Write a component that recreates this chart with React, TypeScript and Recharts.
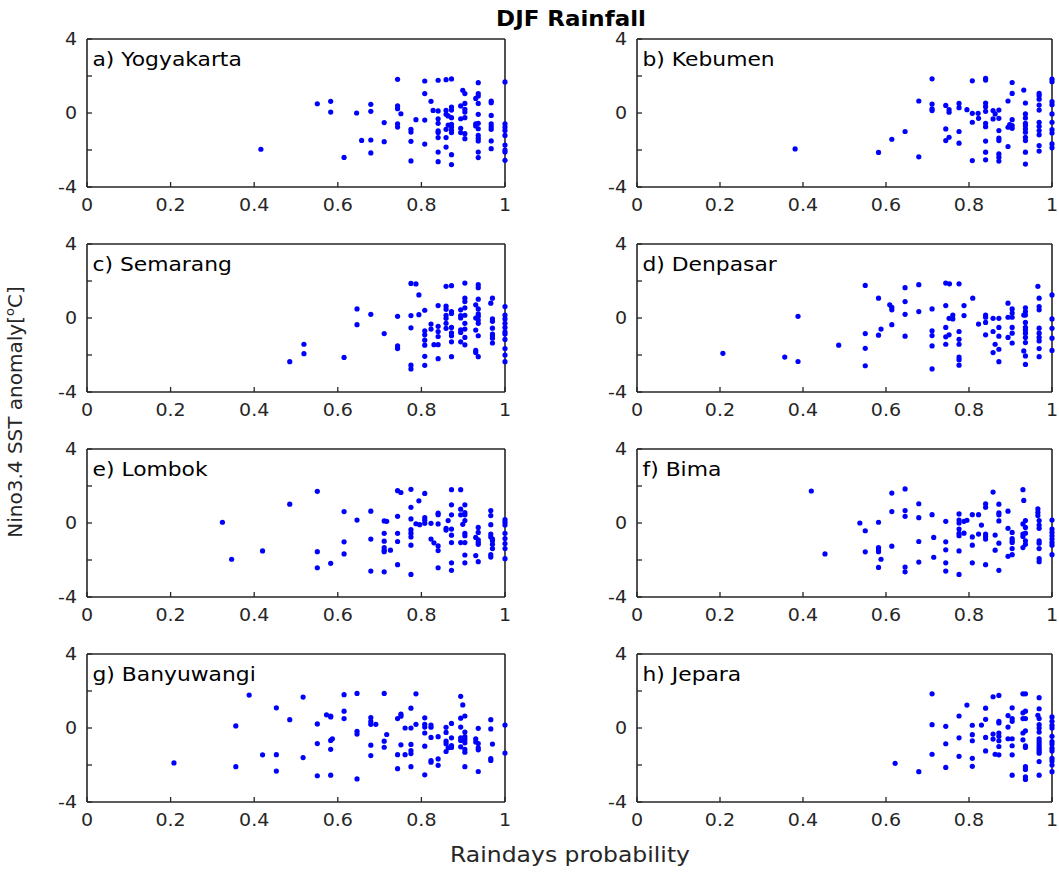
import React from 'react';
import { ScatterChart, Scatter, XAxis, YAxis } from 'recharts';

type Pt = [number, number];

const stationNames = ['a) Yogyakarta', 'b) Kebumen', 'c) Semarang', 'd) Denpasar', 'e) Lombok', 'f) Bima', 'g) Banyuwangi', 'h) Jepara'];
const xTicks = [0, 0.2, 0.4, 0.6, 0.8, 1];
const yTicks = [-4, -2, 0, 2, 4];
const yLabelled = [-4, 0, 4];

// raindays probability vs Nino3.4 SST anomaly
const yogyakarta: Pt[] = [
  [0.416, -1.96], [0.551, 0.5], [0.583, 0.63], [0.583, 0.05], [0.615, -2.4], [0.645, 0.0], [0.657, -1.48],
  [0.679, 0.47], [0.679, 0.09], [0.679, -1.46], [0.679, -2.16], [0.711, -0.52], [0.711, -1.55],
  [0.743, 1.82], [0.743, 0.38], [0.743, 0.23], [0.743, -0.58], [0.743, -0.76], [0.751, -0.04],
  [0.775, -0.88], [0.775, -1.03], [0.775, -1.53], [0.775, -2.59], [0.787, -0.36],
  [0.808, 1.73], [0.808, 1.05], [0.808, -0.38], [0.808, -1.68], [0.823, 0.63], [0.828, 0.14],
  [0.84, 1.77], [0.84, 0.11], [0.84, -0.31], [0.84, -0.56], [0.84, -0.97], [0.84, -1.06], [0.84, -1.33], [0.84, -2.11], [0.84, -2.63],
  [0.859, 1.8], [0.859, 0.14], [0.859, -0.07], [0.859, -0.88], [0.859, -1.33], [0.859, -1.84], [0.864, -0.16], [0.864, -0.65],
  [0.872, 1.84], [0.872, 0.32], [0.872, 0.16], [0.872, -0.25], [0.872, -0.61], [0.872, -0.76], [0.872, -0.94], [0.872, -1.06], [0.872, -2.25], [0.872, -2.79],
  [0.894, 0.38], [0.894, -0.31], [0.894, -0.83], [0.894, -1.06], [0.899, 1.23],
  [0.904, 1.05], [0.904, 0.52], [0.904, 0.2], [0.904, 0.05], [0.904, -0.25], [0.904, -1.12], [0.904, -1.39],
  [0.93, 0.79], [0.93, -0.58], [0.93, -0.7],
  [0.936, 1.64], [0.936, 1.05], [0.936, 0.92], [0.936, 0.52], [0.936, -0.07], [0.936, -0.56], [0.936, -0.85], [0.936, -1.21], [0.936, -1.37], [0.936, -1.51], [0.936, -2.11], [0.936, -2.41],
  [0.967, 0.65], [0.967, 0.56], [0.967, -0.13], [0.967, -0.58], [0.967, -0.74], [0.967, -0.88], [0.967, -1.51], [0.967, -1.93],
  [1, 1.68], [1, -0.58], [1, -0.76], [1, -0.94], [1, -1.21], [1, -1.73], [1, -2.0], [1, -2.11], [1, -2.56],
];

const kebumen: Pt[] = [
  [0.381, -1.94], [0.582, -2.13], [0.614, -1.42], [0.646, -1.0], [0.679, 0.65], [0.679, -2.37],
  [0.711, 1.85], [0.711, 0.48], [0.711, 0.22], [0.711, 0.13],
  [0.744, 0.41], [0.744, -0.86], [0.744, -1.49], [0.752, 0.18], [0.752, 0.04], [0.752, -1.31],
  [0.776, 0.52], [0.776, 0.29], [0.776, -1.0], [0.776, -1.63], [0.795, 0.18],
  [0.808, 1.74], [0.808, -0.02], [0.808, -0.5], [0.808, -2.57], [0.822, -0.02], [0.823, -0.29],
  [0.84, 1.87], [0.84, 1.78], [0.84, 0.54], [0.84, 0.34], [0.84, 0.09], [0.84, -0.56], [0.84, -0.74], [0.84, -1.52], [0.84, -2.12], [0.84, -2.53],
  [0.858, 0.13], [0.858, -0.32], [0.863, -0.05],
  [0.872, 0.16], [0.872, -0.29], [0.872, -0.95], [0.872, -1.36], [0.872, -1.49], [0.872, -2.21], [0.872, -2.39], [0.872, -2.6],
  [0.894, 0.65], [0.894, -0.77], [0.894, -1.81], [0.898, -0.63],
  [0.904, 1.65], [0.904, 1.06], [0.904, -0.36], [0.904, -0.68], [0.904, -0.83],
  [0.932, 1.24], [0.936, 0.54], [0.936, -0.05], [0.936, -0.27], [0.936, -0.56], [0.936, -0.68], [0.936, -0.86], [0.936, -1.04], [0.936, -1.31], [0.936, -1.49], [0.936, -2.12], [0.936, -2.76],
  [0.969, 1.06], [0.969, 0.93], [0.969, 0.75], [0.969, 0.43], [0.969, 0.16], [0.969, -0.5], [0.969, -0.72], [0.969, -0.95], [0.969, -1.18], [0.969, -1.76], [0.969, -2.06],
  [1, 1.83], [1, 1.69], [1, 0.61], [1, 0.45], [1, -0.05], [1, -0.5], [1, -0.9], [1, -1.08], [1, -1.67], [1, -1.88],
];

const semarang: Pt[] = [
  [0.485, -2.36], [0.519, -1.42], [0.519, -1.93], [0.615, -2.13], [0.646, 0.49], [0.646, -0.36], [0.679, 0.2], [0.711, -0.84],
  [0.743, 0.09], [0.743, -1.51], [0.743, -1.65],
  [0.775, 1.87], [0.787, 1.84], [0.775, 0.13], [0.775, -0.53], [0.775, -2.55], [0.775, -2.75], [0.794, 1.25], [0.794, 0.18],
  [0.808, 0.42], [0.808, -0.69], [0.808, -0.91], [0.808, -1.2], [0.808, -1.47], [0.808, -2.07], [0.808, -2.56],
  [0.823, -0.33], [0.823, -0.6], [0.83, -1.44],
  [0.84, 0.67], [0.84, -0.45], [0.84, -0.73], [0.84, -1.0], [0.84, -1.44], [0.84, -2.2],
  [0.859, 1.71], [0.859, 0.64], [0.859, 0.47], [0.859, 0.15], [0.859, -0.02], [0.859, -0.29], [0.859, -0.56],
  [0.872, 1.75], [0.872, 0.35], [0.872, 0.25], [0.872, -0.51], [0.872, -0.8], [0.872, -0.96], [0.872, -1.29], [0.872, -2.09],
  [0.894, 0.44], [0.894, 0.13], [0.894, 0.0], [0.894, -0.64], [0.894, -0.78], [0.894, -1.29],
  [0.904, 1.89], [0.904, 1.07], [0.904, 0.89], [0.904, 0.55], [0.904, 0.15], [0.904, -0.29], [0.904, -0.6], [0.904, -1.05], [0.904, -1.45],
  [0.93, 0.71], [0.93, 0.0], [0.93, -0.65], [0.93, -1.75], [0.93, -1.87],
  [0.936, 1.8], [0.936, 1.64], [0.936, 1.02], [0.936, 0.49], [0.936, 0.22], [0.936, 0.09], [0.936, -0.11], [0.936, -0.29], [0.936, -0.96], [0.936, -2.09],
  [0.966, 0.8], [0.97, 1.07], [0.97, -0.04], [0.97, -0.18], [0.97, -0.55], [0.97, -0.87], [0.97, -0.96], [0.97, -1.09], [0.97, -1.35],
  [1, 0.62], [1, 0.16], [1, -0.05], [1, -0.29], [1, -0.51], [1, -0.75], [1, -0.87], [1, -1.16], [1, -1.65], [1, -2.0], [1, -2.36],
];

const denpasar: Pt[] = [
  [0.207, -1.91], [0.356, -2.11], [0.388, 0.09], [0.388, -2.35], [0.486, -1.47],
  [0.55, 1.76], [0.55, -0.84], [0.55, -1.64], [0.55, -2.58], [0.582, 1.07], [0.582, -0.93], [0.588, -0.6],
  [0.609, 0.71], [0.614, 0.58], [0.614, 0.44], [0.614, -0.36],
  [0.646, 1.64], [0.646, 0.89], [0.646, 0.2], [0.646, -0.98], [0.679, 1.8], [0.679, 0.35],
  [0.711, 0.49], [0.711, -0.69], [0.711, -0.95], [0.711, -1.51], [0.711, -2.75],
  [0.744, 1.89], [0.753, 1.85], [0.744, 0.67], [0.744, -0.51], [0.744, -1.02], [0.744, -1.42], [0.752, -0.02], [0.752, -0.91], [0.761, 0.16], [0.761, -0.05],
  [0.776, 1.85], [0.776, -0.73], [0.776, -1.15], [0.776, -1.42], [0.776, -2.11], [0.776, -2.25], [0.776, -2.55],
  [0.788, 0.67], [0.788, 0.13], [0.809, 1.07], [0.823, -0.33],
  [0.84, 0.16], [0.84, 0.04], [0.84, -0.24], [0.84, -0.91], [0.858, -0.02], [0.858, -0.73], [0.858, -1.87], [0.863, -1.42],
  [0.872, -0.02], [0.872, -0.51], [0.872, -0.98], [0.872, -1.69], [0.872, -2.36],
  [0.894, 0.8], [0.894, 0.04], [0.894, -1.05],
  [0.904, 0.49], [0.904, 0.27], [0.904, 0.04], [0.904, -0.51], [0.904, -0.82], [0.904, -1.35],
  [0.932, 0.16], [0.932, -1.78], [0.936, 0.55], [0.936, 0.35], [0.936, 0.16], [0.936, -0.24], [0.936, -0.51], [0.936, -0.65], [0.936, -0.82], [0.936, -1.05], [0.936, -1.33], [0.936, -2.05], [0.936, -2.51],
  [0.966, 1.71], [0.969, 1.07], [0.969, 0.62], [0.969, 0.44], [0.969, -0.55], [0.969, -0.82], [0.969, -1.05], [0.969, -1.24], [0.969, -1.65], [0.969, -2.09],
  [1, 1.25], [1, -0.05], [1, -0.56], [1, -1.09], [1, -1.75],
];

const lombok: Pt[] = [
  [0.324, 0.04], [0.346, -1.96], [0.42, -1.51], [0.485, 1.02], [0.551, 1.71], [0.551, -1.55], [0.551, -2.42], [0.583, -2.18],
  [0.615, 0.62], [0.615, -1.02], [0.615, -1.67], [0.646, 0.16], [0.679, 0.64], [0.679, -0.87], [0.679, -2.6],
  [0.711, 0.11], [0.717, 0.09], [0.711, -0.56], [0.711, -0.98], [0.711, -1.33], [0.711, -1.47], [0.711, -1.55], [0.711, -2.64], [0.726, -1.47],
  [0.743, 1.75], [0.751, 1.65], [0.743, 0.36], [0.743, -0.56], [0.743, -1.0], [0.743, -2.25],
  [0.775, 1.82], [0.775, 0.85], [0.775, 0.22], [0.775, -0.36], [0.775, -0.55], [0.775, -0.75], [0.775, -1.2], [0.775, -2.78],
  [0.787, -0.04], [0.794, 1.2], [0.796, -0.09], [0.808, 1.6], [0.808, 0.29], [0.808, 0.15], [0.808, -0.02],
  [0.823, -0.02], [0.823, -0.87], [0.83, -1.07],
  [0.84, 0.53], [0.84, 0.45], [0.84, -0.05], [0.84, -1.24], [0.84, -1.49], [0.84, -2.42],
  [0.859, -0.29], [0.859, -0.38], [0.864, 0.13],
  [0.872, 1.8], [0.872, 0.98], [0.872, 0.44], [0.872, -0.33], [0.872, -0.66], [0.872, -1.06], [0.872, -2.15], [0.872, -2.56],
  [0.894, 1.8], [0.894, 0.75], [0.894, 0.44], [0.894, -1.06], [0.899, -0.07],
  [0.904, 0.98], [0.904, 0.56], [0.904, 0.44], [0.904, 0.13], [0.904, -0.56], [0.904, -0.69], [0.904, -1.06], [0.904, -1.73], [0.904, -2.15],
  [0.93, -0.78], [0.93, -1.76], [0.936, -0.24], [0.936, -0.51], [0.936, -0.91], [0.936, -1.04], [0.936, -1.15], [0.936, -2.09],
  [0.966, 0.67], [0.966, 0.4], [0.966, -0.09], [0.966, -0.6], [0.966, -0.75], [0.97, -0.87], [0.97, -0.96], [0.97, -1.15], [0.97, -1.38], [0.966, -1.71], [0.966, -1.84],
  [1, 0.18], [1, 0.04], [1, -0.11], [1, -0.56], [1, -0.84], [1, -1.11], [1, -1.38], [1, -1.93],
];

const bima: Pt[] = [
  [0.42, 1.73], [0.453, -1.67], [0.537, 0.0], [0.55, -0.42], [0.55, -1.56],
  [0.582, 0.04], [0.582, -1.33], [0.582, -1.44], [0.582, -1.55], [0.588, -1.96], [0.582, -2.4],
  [0.614, 1.62], [0.614, 0.62], [0.614, -1.25], [0.646, 1.84], [0.646, 0.67], [0.646, 0.36], [0.646, -2.38], [0.646, -2.64],
  [0.679, 1.04], [0.679, 0.29], [0.679, -1.0], [0.679, -2.11], [0.711, 0.45], [0.715, -0.78], [0.715, -1.85],
  [0.744, 0.09], [0.744, -1.02], [0.744, -1.45], [0.744, -2.15], [0.744, -2.6],
  [0.776, 0.49], [0.776, 0.16], [0.776, 0.0], [0.776, -0.33], [0.776, -0.56], [0.776, -0.69], [0.776, -1.51], [0.776, -2.78],
  [0.788, 0.09], [0.788, -0.55], [0.795, 0.15], [0.808, 0.45], [0.808, -0.75], [0.808, -1.2], [0.808, -2.15],
  [0.823, 0.45], [0.823, -0.6], [0.83, -0.11],
  [0.84, 1.04], [0.84, 0.85], [0.84, -0.6], [0.84, -0.73], [0.84, -0.87], [0.84, -2.25],
  [0.858, 1.67], [0.863, -0.65], [0.863, -1.47],
  [0.872, 1.02], [0.872, 0.55], [0.872, 0.44], [0.872, 0.11], [0.872, -1.09], [0.872, -2.56],
  [0.894, 0.64], [0.894, -0.29], [0.894, -1.8],
  [0.904, -0.51], [0.904, -0.84], [0.904, -0.96], [0.904, -1.05], [0.904, -1.38], [0.904, -1.71],
  [0.93, 1.8], [0.932, 1.22], [0.93, -0.05], [0.93, -0.6], [0.93, -0.73], [0.93, -1.33],
  [0.936, 0.13], [0.936, -0.24], [0.936, -0.55], [0.936, -0.96], [0.936, -1.15],
  [0.966, 0.76], [0.966, 0.58], [0.966, 0.4], [0.969, 0.13], [0.969, -0.11], [0.969, -0.29], [0.969, -0.96], [0.969, -1.09], [0.969, -1.38], [0.969, -1.93], [0.969, -2.09],
  [1, 0.16], [1, -0.33], [1, -0.51], [1, -0.69], [1, -0.87], [1, -1.05], [1, -1.2], [1, -1.71],
];

const banyuwangi: Pt[] = [
  [0.208, -1.89], [0.356, 0.11], [0.356, -2.09], [0.388, 1.78], [0.42, -1.45], [0.453, 1.09], [0.453, -1.44], [0.453, -2.33],
  [0.485, 0.45], [0.517, 1.67], [0.517, -1.6], [0.551, 0.22], [0.551, -0.84], [0.551, -2.58],
  [0.573, 0.71], [0.583, 0.65], [0.583, 0.6], [0.583, -0.67], [0.587, -0.58], [0.583, -1.15], [0.583, -2.55],
  [0.615, 1.8], [0.615, 0.91], [0.615, 0.51], [0.646, 1.87], [0.646, -0.18], [0.646, -0.33], [0.646, -2.75],
  [0.679, 0.56], [0.679, 0.35], [0.679, 0.2], [0.679, -0.93], [0.679, -1.49], [0.691, 0.2],
  [0.711, 1.87], [0.717, -0.35], [0.711, -0.71], [0.711, -1.04],
  [0.743, 0.51], [0.751, 0.75], [0.751, 0.64], [0.743, -1.44], [0.743, -2.2], [0.751, -0.91], [0.761, 0.0], [0.761, -1.44],
  [0.775, 1.07], [0.775, 0.0], [0.775, -0.89], [0.775, -1.22], [0.775, -1.38], [0.775, -2.09], [0.787, 1.85], [0.787, 0.2],
  [0.808, 0.55], [0.808, 0.2], [0.808, 0.05], [0.808, -0.27], [0.808, -0.98], [0.808, -2.53],
  [0.823, 0.16], [0.823, 0.04], [0.823, -0.51], [0.823, -1.76], [0.823, -1.85],
  [0.84, -0.47], [0.84, -1.67], [0.84, -2.02],
  [0.859, 0.04], [0.859, -0.24], [0.859, -0.71], [0.859, -0.85], [0.859, -1.27], [0.864, -1.07],
  [0.872, 0.25], [0.872, -0.53], [0.872, -0.95], [0.872, -1.05],
  [0.894, 1.71], [0.899, 1.25], [0.894, 0.53], [0.894, 0.05], [0.894, -0.53], [0.894, -0.67], [0.894, -1.02],
  [0.904, 0.65], [0.904, -0.22], [0.904, -0.47], [0.904, -0.62], [0.904, -0.8], [0.904, -1.16], [0.904, -1.31], [0.904, -2.09],
  [0.93, -0.58], [0.93, -0.75], [0.936, -0.02], [0.936, -0.84], [0.936, -1.07], [0.936, -1.18], [0.936, -2.35],
  [0.966, 0.45], [0.966, -0.05], [0.966, -1.65], [0.966, -1.75], [0.97, -0.87],
  [1, 0.16], [1, -1.35],
];

const jepara: Pt[] = [
  [0.622, -1.91], [0.679, -2.36], [0.711, 1.85], [0.711, 0.18], [0.711, -1.42],
  [0.744, 0.09], [0.744, -0.85], [0.744, -2.13], [0.776, 0.65], [0.776, -0.53], [0.776, -1.53], [0.795, 1.24],
  [0.808, 0.15], [0.808, -0.36], [0.808, -0.69], [0.808, -1.64], [0.808, -2.07], [0.83, 0.16],
  [0.84, 1.07], [0.84, 0.47], [0.84, -0.51], [0.84, -1.24],
  [0.858, 1.69], [0.858, -0.33], [0.858, -0.6], [0.863, -1.42],
  [0.872, 1.76], [0.872, 0.36], [0.872, 0.27], [0.872, -0.27], [0.872, -0.45], [0.872, -0.69], [0.872, -1.0], [0.872, -1.45],
  [0.894, 0.67], [0.894, 0.05], [0.894, -0.58],
  [0.904, 1.09], [0.904, 0.51], [0.904, 0.36], [0.904, -0.58], [0.904, -0.96], [0.904, -1.45], [0.904, -2.55],
  [0.93, 1.85], [0.936, 1.85], [0.93, 0.82], [0.936, 0.91], [0.93, 0.51], [0.936, 0.51], [0.93, -0.27], [0.936, -0.15], [0.93, -0.64],
  [0.936, -0.96], [0.936, -1.05], [0.936, -2.09], [0.936, -2.24], [0.936, -2.64], [0.936, -2.78],
  [0.969, 1.64], [0.969, 1.04], [0.966, 0.69], [0.969, 0.51], [0.969, 0.18], [0.969, 0.0], [0.969, -0.22], [0.969, -0.58], [0.969, -0.73],
  [0.969, -0.87], [0.969, -1.0], [0.969, -1.13], [0.969, -1.24], [0.969, -1.36], [0.969, -1.82], [0.969, -2.55],
  [1, 0.6], [1, 0.36], [1, 0.15], [1, 0.0], [1, -0.45], [1, -0.73], [1, -0.87], [1, -1.09], [1, -1.24], [1, -1.64], [1, -1.78], [1, -2.0], [1, -2.36],
];

const stationData = [yogyakarta, kebumen, semarang, denpasar, lombok, bima, banyuwangi, jepara];

const FONT = "'DejaVu Sans', sans-serif";
const INK = '#262626';
const SX = 1.12; // the figure text is a little wider than the font
const colLeft = [87, 637];
const colWidth = [418, 415];
const rowTop = [39, 244, 449, 654];
const plotH = 148;
const padL = 60;
const padT = 12;
const padR = 12;
const padB = 40;

const XTick = (props: any) => {
  const { x, y, payload } = props;
  return (
    <text transform={`translate(${x},${y}) scale(${SX},1)`} textAnchor="middle" dy="0.71em" fontSize={17} fill={INK} fontFamily={FONT}>
      {payload.value}
    </text>
  );
};

const YTick = (props: any) => {
  const { x, y, payload } = props;
  if (!yLabelled.includes(payload.value)) return <g />;
  return (
    <text transform={`translate(${x},${y}) scale(${SX},1)`} textAnchor="end" dy="0.355em" fontSize={17} fill={INK} fontFamily={FONT}>
      {payload.value}
    </text>
  );
};

const dot = (p: any) => <circle cx={p.cx} cy={p.cy} r={2.6} fill="#0000ff" />;
const noDot = () => <g />;

function Panel({ idx }: { idx: number }) {
  const col = idx % 2;
  const row = Math.floor(idx / 2);
  const w = colWidth[col];
  const data = stationData[idx].map(([p, sst]) => ({ p, sst }));
  const axisLine = { stroke: INK, strokeWidth: 1.6 };
  const tickLine = { stroke: INK, strokeWidth: 1.3 };
  return (
    <div style={{ position: 'absolute', left: colLeft[col] - padL, top: rowTop[row] - padT }}>
      <ScatterChart width={padL + w + padR} height={padT + plotH + padB} margin={{ top: padT - 1, right: padR - 1, bottom: 0, left: 0 }}>
        <XAxis xAxisId="b" type="number" dataKey="p" domain={[0, 1]} ticks={xTicks} height={padB}
          axisLine={axisLine} tickLine={tickLine} tickSize={-5} tickMargin={17} tick={<XTick />} interval={0} />
        <XAxis xAxisId="t" orientation="top" type="number" dataKey="p" domain={[0, 1]} ticks={xTicks} height={1}
          axisLine={axisLine} tickLine={tickLine} tickSize={-5} tick={false} interval={0} />
        <YAxis yAxisId="l" type="number" dataKey="sst" domain={[-4, 4]} ticks={yTicks} width={padL}
          axisLine={axisLine} tickLine={tickLine} tickSize={-5} tickMargin={15} tick={<YTick />} interval={0} />
        <YAxis yAxisId="r" orientation="right" type="number" dataKey="sst" domain={[-4, 4]} ticks={yTicks} width={1}
          axisLine={axisLine} tickLine={tickLine} tickSize={-5} tick={false} interval={0} />
        <Scatter xAxisId="t" yAxisId="r" data={data} shape={noDot} isAnimationActive={false} />
        <Scatter xAxisId="b" yAxisId="l" data={data} shape={dot} isAnimationActive={false} />
      </ScatterChart>
    </div>
  );
}

export default function App() {
  return (
    <div style={{ position: 'absolute', left: 0, top: 0, width: 1059, height: 872, background: '#fff', fontFamily: FONT }}>
      {stationNames.map((_, i) => <Panel key={i} idx={i} />)}
      <svg width={1059} height={872} style={{ position: 'absolute', left: 0, top: 0, pointerEvents: 'none' }} fontFamily={FONT} fill="#000">
        <text transform={`translate(571,26) scale(${SX},1)`} textAnchor="middle" fontSize={20.5} fontWeight="bold">DJF Rainfall</text>
        {stationNames.map((name, i) => (
          <text key={name} transform={`translate(${colLeft[i % 2] + 5.5},${rowTop[Math.floor(i / 2)] + 27}) scale(${SX},1)`} fontSize={19.5} fill="#000">
            {name}
          </text>
        ))}
        <text transform={`translate(570,862) scale(${SX},1)`} textAnchor="middle" fontSize={21} fill={INK}>Raindays probability</text>
        <text transform="translate(21.5,412) rotate(-90)" textAnchor="middle" fontSize={20} fill={INK}>
          Nino3.4 SST anomaly[<tspan dy={-8} fontSize={13}>o</tspan><tspan dy={8}>C]</tspan>
        </text>
      </svg>
    </div>
  );
}
